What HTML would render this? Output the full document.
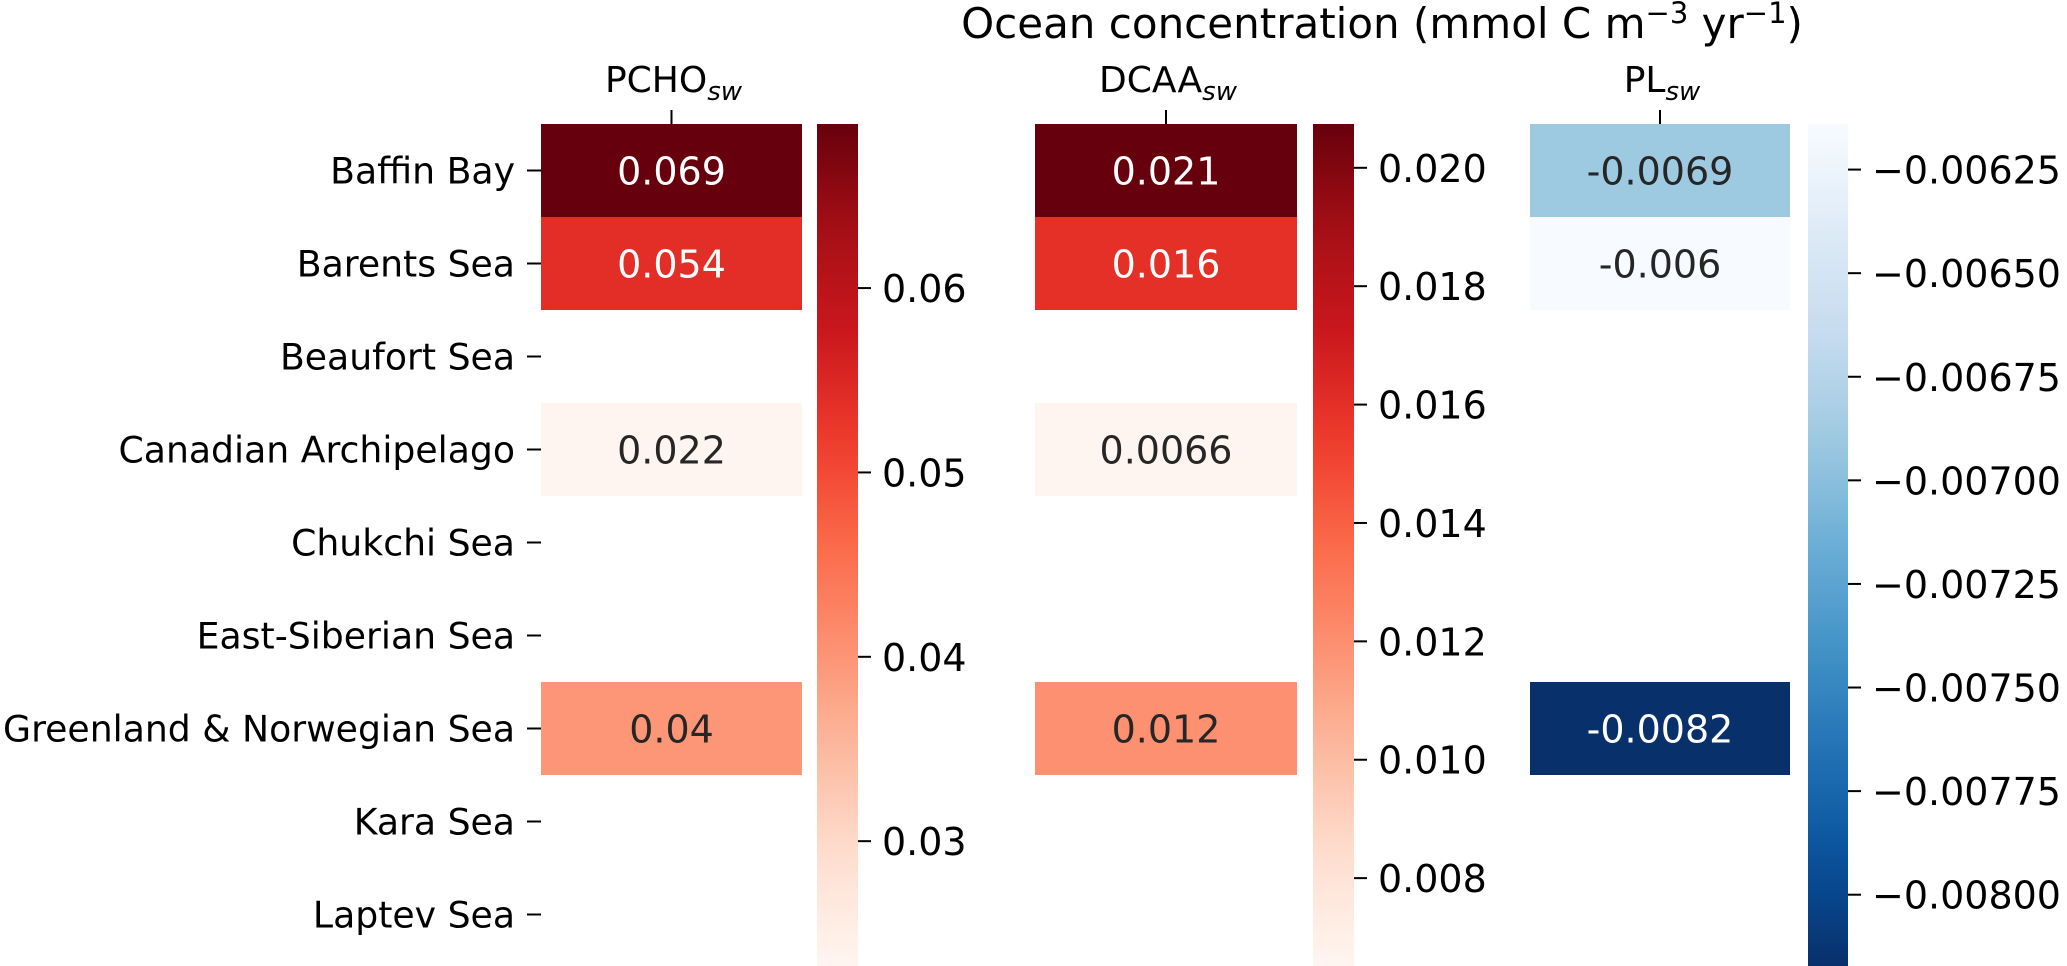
<!DOCTYPE html>
<html><head><meta charset="utf-8">
<style>
html,body{margin:0;padding:0;background:#fff;}
svg{display:block;font-family:"DejaVu Sans","Liberation Sans",sans-serif;}
</style></head>
<body>
<svg id="chart" width="2067" height="966" viewBox="0 0 2067 966"></svg>
<script>
const regions = ["Baffin Bay","Barents Sea","Beaufort Sea","Canadian Archipelago","Chukchi Sea","East-Siberian Sea","Greenland & Norwegian Sea","Kara Sea","Laptev Sea"];
const pchoValues = [0.069, 0.054, null, 0.022, null, null, 0.04, null, null];
const pchoLabels = ["0.069","0.054","","0.022","","","0.04","",""];
const dcaaValues = [0.021, 0.016, null, 0.0066, null, null, 0.012, null, null];
const dcaaLabels = ["0.021","0.016","","0.0066","","","0.012","",""];
const plValues = [-0.0069, -0.00614, null, null, null, null, -0.0082, null, null];
const plLabels = ["-0.0069","-0.006","","","","","-0.0082","",""];
const pchoRange = [0.0235, 0.0689];
const dcaaRange = [0.0066, 0.02074];
const plRange = [-0.00816, -0.00614];
const pchoTicks = [0.03, 0.04, 0.05, 0.06];
const pchoTickLabels = ["0.03","0.04","0.05","0.06"];
const dcaaTicks = [0.008, 0.010, 0.012, 0.014, 0.016, 0.018, 0.020];
const dcaaTickLabels = ["0.008","0.010","0.012","0.014","0.016","0.018","0.020"];
const plTicks = [-0.008, -0.00775, -0.0075, -0.00725, -0.007, -0.00675, -0.0065, -0.00625];
const plTickLabels = ["\u22120.00800","\u22120.00775","\u22120.00750","\u22120.00725","\u22120.00700","\u22120.00675","\u22120.00650","\u22120.00625"];

const REDS = ["#fff5f0","#fee0d2","#fcbba1","#fc9272","#fb6a4a","#ef3b2c","#cb181d","#a50f15","#67000d"];
const BLUES_R = ["#08306b","#08519c","#2171b5","#4292c6","#6baed6","#9ecae1","#c6dbef","#deebf7","#f7fbff"];

const NS = "http://www.w3.org/2000/svg";
const svg = document.getElementById('chart');
function mk(tag, attrs, parent){const e=document.createElementNS(NS,tag);for(const k in attrs)e.setAttribute(k,attrs[k]);(parent||svg).appendChild(e);return e;}
function hex2rgb(h){return [parseInt(h.slice(1,3),16),parseInt(h.slice(3,5),16),parseInt(h.slice(5,7),16)];}
function cmap(stops,t){t=Math.max(0,Math.min(1,t));const p=t*(stops.length-1);const i=Math.min(stops.length-2,Math.floor(p));const f=p-i;const a=hex2rgb(stops[i]),b=hex2rgb(stops[i+1]);return a.map((v,k)=>Math.round(v+(b[k]-v)*f));}
function lum(rgb){const c=rgb.map(v=>{v/=255;return v<=0.03928?v/12.92:Math.pow((v+0.055)/1.055,2.4);});return 0.2126*c[0]+0.7152*c[1]+0.0722*c[2];}

const TOP = 124, ROWH = 93, BOTTOM = 961;
function rowY(i){return TOP + i*ROWH;}

const title = mk('text',{x:1382,y:38,'font-size':42,'text-anchor':'middle',fill:'#000'});


title.innerHTML = 'Ocean concentration (mmol C m<tspan dy="-15" font-size="29">\u22123</tspan><tspan dy="15"> yr</tspan><tspan dy="-15" font-size="29">\u22121</tspan><tspan dy="15">)</tspan>';

regions.forEach((r,i)=>{
  const cy = rowY(i)+ROWH/2;
  const t = mk('text',{x:515,y:cy+13,'font-size':36.2,'text-anchor':'end',fill:'#000'});
  
  
  t.textContent = r;
  const tk = mk('line',{x1:527,x2:541,y1:cy,y2:cy,stroke:'#000','stroke-width':2});
  
  
});

const panels = [
  {name:'PCHO',x0:541,x1:802,cb0:817,cb1:858,vals:pchoValues,labels:pchoLabels,range:pchoRange,ticks:pchoTicks,tl:pchoTickLabels,stops:REDS},
  {name:'DCAA',x0:1035,x1:1297,cb0:1313,cb1:1354,vals:dcaaValues,labels:dcaaLabels,range:dcaaRange,ticks:dcaaTicks,tl:dcaaTickLabels,stops:REDS},
  {name:'PL',x0:1530,x1:1790,cb0:1808,cb1:1848,vals:plValues,labels:plLabels,range:plRange,ticks:plTicks,tl:plTickLabels,stops:BLUES_R}
];
const defs = mk('defs',{});
panels.forEach((p,pi)=>{
  const cx=(p.x0+p.x1)/2;
  const g = mk('g',{});
  
  
  const ct = mk('text',{x:cx+2,y:92,'font-size':36,'text-anchor':'middle',fill:'#000'},g);
  
  
  ct.innerHTML = p.name+'<tspan dy="8" font-size="26" font-style="italic">sw</tspan>';
  mk('line',{x1:cx,x2:cx,y1:110,y2:124,stroke:'#000','stroke-width':2},g);
  const norm = v => (v-p.range[0])/(p.range[1]-p.range[0]);
  p.vals.forEach((v,i)=>{
    if(v===null) return;
    const rgb = cmap(p.stops,norm(v));
    const cell = mk('rect',{x:p.x0,y:rowY(i),width:p.x1-p.x0,height:ROWH,fill:`rgb(${rgb.join(',')})`},g);
    
    
    const lab = mk('text',{x:cx,y:rowY(i)+ROWH/2+14,'font-size':38,'text-anchor':'middle',fill:lum(rgb)>0.408?'#262626':'#ffffff'},g);
    
    
    lab.textContent = p.labels[i];
  });
  const gid='grad'+pi;
  const grad = mk('linearGradient',{id:gid,x1:0,y1:1,x2:0,y2:0},defs);
  for(let k=0;k<=20;k++){const rgb=cmap(p.stops,k/20);mk('stop',{offset:k/20,'stop-color':`rgb(${rgb.join(',')})`},grad);}
  const cb = mk('rect',{x:p.cb0,y:TOP,width:p.cb1-p.cb0,height:BOTTOM-TOP+5,fill:`url(#${gid})`},g);
  
  
  const yOf = v => TOP + (1-norm(v))*(BOTTOM-TOP);
  p.ticks.forEach((tv,k)=>{
    const y=yOf(tv);
    mk('line',{x1:p.cb1,x2:p.cb1+13,y1:y,y2:y,stroke:'#000','stroke-width':2},g);
    const tt = mk('text',{x:p.cb1+24,y:y+14,'font-size':38,fill:'#000'},g);
    
    
    tt.textContent = p.tl[k];
  });
});
</script>
</body></html>
